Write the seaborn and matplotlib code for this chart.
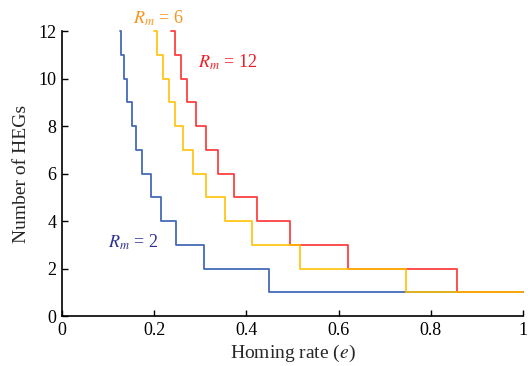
import numpy as np
import pandas as pd
import matplotlib
matplotlib.use("Agg")
import matplotlib.pyplot as plt
import seaborn as sns

# Step transitions (homing rate e where the number of HEGs drops)
e_rm2 = [0.126, 0.128, 0.135, 0.141, 0.152, 0.161, 0.173, 0.194, 0.214, 0.247, 0.308, 0.448, 1.0]
e_rm6 = [0.200, 0.207, 0.219, 0.232, 0.245, 0.262, 0.284, 0.313, 0.354, 0.412, 0.517, 0.746, 1.0]
e_rm12 = [0.236, 0.245, 0.259, 0.272, 0.291, 0.313, 0.338, 0.374, 0.423, 0.495, 0.620, 0.857, 1.0]
n_hegs = [12, 11, 10, 9, 8, 7, 6, 5, 4, 3, 2, 1, 1]

series_names = ["Rm2", "Rm6", "Rm12"]
series_colors = {"Rm2": "#2f59b0", "Rm6": "#ffc000", "Rm12": "#ff2b2b"}
label_colors = {"Rm2": "#2e3192", "Rm6": "#f7941d", "Rm12": "#ed1c24"}

df = pd.concat([
    pd.DataFrame({"e": e_rm2, "n": n_hegs, "series": "Rm2"}),
    pd.DataFrame({"e": e_rm12, "n": n_hegs, "series": "Rm12"}),
    pd.DataFrame({"e": e_rm6, "n": n_hegs, "series": "Rm6"}),
], ignore_index=True)

sns.set_style("ticks")
plt.rcParams["font.family"] = ["Liberation Serif", "DejaVu Serif"]
plt.rcParams["mathtext.fontset"] = "stix"

fig = plt.figure(figsize=(5.28, 3.66), dpi=100)
ax = fig.add_axes([0.1174, 0.1366, 0.8731, 0.7787])

for name in ["Rm2", "Rm12", "Rm6"]:
    sub = df[df["series"] == name]
    sns.lineplot(data=sub, x="e", y="n", ax=ax, color=series_colors[name],
                 drawstyle="steps-post", linewidth=1.3, estimator=None,
                 sort=False, legend=False, clip_on=False, alpha=0.9)

ax.set_xlim(0, 1)
ax.set_ylim(0, 12)
ax.set_xticks(np.arange(0, 1.01, 0.2))
ax.set_xticklabels(["0", "0.2", "0.4", "0.6", "0.8", "1"])
ax.set_yticks(np.arange(0, 13, 2))
ax.tick_params(direction="in", length=4, width=1.0, labelsize=13, colors="black", pad=4)
for s in ["top", "right"]:
    ax.spines[s].set_visible(False)
for s in ["left", "bottom"]:
    ax.spines[s].set_linewidth(1.2)
    ax.spines[s].set_color("black")

ax.set_xlabel("Homing rate ($e$)", fontsize=14, labelpad=3)
ax.set_ylabel("Number of HEGs", fontsize=14, labelpad=6)

ax.text(0.154, 12.55, "$R_m$ = 6", color=label_colors["Rm6"], fontsize=13,
        va="center", ha="left", clip_on=False)
ax.text(0.295, 10.7, "$R_m$ = 12", color=label_colors["Rm12"], fontsize=13,
        va="center", ha="left")
ax.text(0.100, 3.1, "$R_m$ = 2", color=label_colors["Rm2"], fontsize=13,
        va="center", ha="left")

fig.savefig("out.png", dpi=100)
